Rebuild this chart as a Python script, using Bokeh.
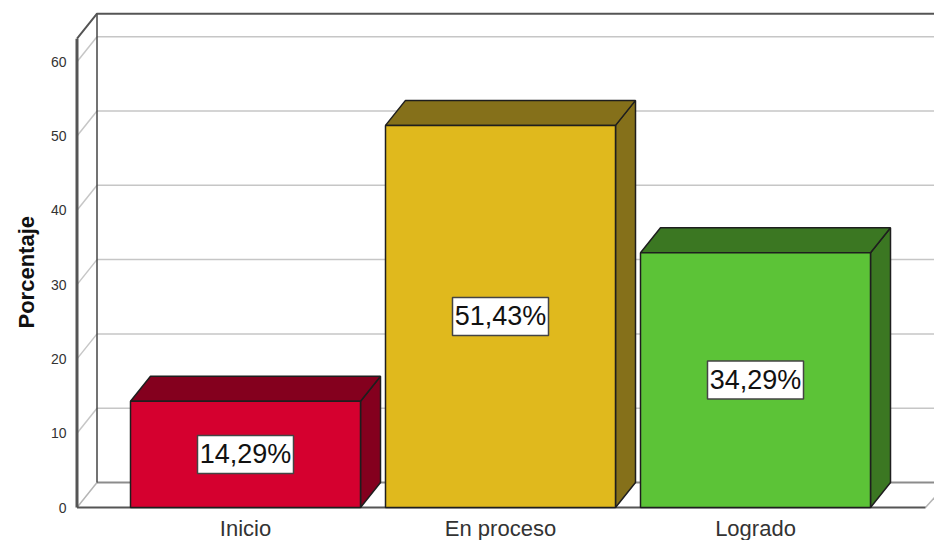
from bokeh.plotting import figure
from bokeh.embed import file_html
from bokeh.resources import INLINE
from bokeh.models import Range1d, FixedTicker, Title

categories = ["Inicio", "En proceso", "Logrado"]
percentages = [14.29, 51.43, 34.29]
labels = ["14,29%", "51,43%", "34,29%"]
front_colors = ["#D5002F", "#E0B91D", "#5CC337"]
dark_colors = ["#84001E", "#85701A", "#3B7722"]
y_ticks = [0, 10, 20, 30, 40, 50, 60]
y_title = "Porcentaje"

FONT = "Liberation Sans"
PX_X = 255.0
PX_Y = 7.43
X_START = 1 - 175 / PX_X
X_END = 1 + 689 / PX_X
X0 = 1 - 168.5 / PX_X
DX = 20 / PX_X
DY = 25 / PX_Y
YTOP = 63.1
BAR = 230 / PX_X
FLOOR_END = 1 + 680 / PX_X

p = figure(frame_width=864, frame_height=500, output_backend="svg", toolbar_location=None,
           x_range=Range1d(X_START, X_END), y_range=Range1d(-3 / PX_Y, 497 / PX_Y),
           min_border_left=70, min_border_right=0, min_border_top=10, min_border_bottom=30,
           outline_line_color=None, background_fill_color="white", border_fill_color="white")
p.margin = (0, 0, 0, 0)
p.grid.visible = False

xa = p.xaxis[0]
xa.ticker = FixedTicker(ticks=[1, 2, 3])
xa.major_label_overrides = {i + 1: c for i, c in enumerate(categories)}
xa.major_label_text_font = FONT
xa.major_label_text_font_size = "22px"
xa.major_label_text_color = "#333333"
xa.major_tick_line_color = None
xa.minor_tick_line_color = None
xa.axis_line_color = None
xa.major_label_standoff = -1

ya = p.yaxis[0]
ya.ticker = FixedTicker(ticks=y_ticks)
ya.major_label_text_font = FONT
ya.major_label_text_font_size = "14px"
ya.major_label_text_color = "#333333"
ya.major_tick_line_color = None
ya.minor_tick_line_color = None
ya.axis_line_color = None
ya.major_label_standoff = -2

p.add_layout(Title(text=y_title, align="left", offset=182, standoff=18,
                   text_font=FONT, text_font_style="bold", text_font_size="22px",
                   text_color="#111111"), "left")

grid_vals = [t for t in y_ticks if t > 0]
p.multi_line([[X0 + DX, X_END] for _ in grid_vals], [[v + DY, v + DY] for v in grid_vals],
             line_color="#C6C6C6", line_width=1.5)
p.multi_line([[X0, X0 + DX] for _ in grid_vals], [[v, v + DY] for v in grid_vals],
             line_color="#C6C6C6", line_width=1.5)
p.line([X0, X0 + DX], [0, DY], line_color="#B5B5B5", line_width=1.5)
p.line([X0 + DX, X_END], [DY, DY], line_color="#8C8C8C", line_width=2)
p.line([FLOOR_END, X_END], [0, DY * 0.4], line_color="#B5B5B5", line_width=1.5)
p.line([X0 + DX, X0 + DX], [0 + DY, YTOP + DY], line_color="#444444", line_width=1.5)
p.line([X0, X0 + DX, X_END], [YTOP, YTOP + DY, YTOP + DY], line_color="#555555", line_width=2)
p.line([X0, X0], [0, YTOP], line_color="#555555", line_width=3)
p.line([X0, FLOOR_END], [0, 0], line_color="#555555", line_width=2)

for i, v in enumerate(percentages):
    c = i + 1
    l, r = c - BAR / 2, c + BAR / 2
    p.patch([r, r + DX, r + DX, r], [0, DY, v + DY, v],
            fill_color=dark_colors[i], line_color="#1E1E1E", line_width=1.5)
    p.patch([l, l + DX, r + DX, r], [v, v + DY, v + DY, v],
            fill_color=dark_colors[i], line_color="#1E1E1E", line_width=1.5)
    p.quad(left=l, right=r, bottom=0, top=v,
           fill_color=front_colors[i], line_color="#1E1E1E", line_width=1.5)

xs = [i + 1 for i in range(len(percentages))]
ys = [v / 2 for v in percentages]
p.rect(xs, ys, width=96, height=38, width_units="screen", height_units="screen",
       fill_color="white", line_color="#444444", line_width=1.5)
p.text(xs, ys, text=labels, text_align="center", text_baseline="middle",
       text_font={"value": FONT}, text_font_size={"value": "27px"}, text_color="#111111")

open("out.html", "w").write(file_html(p, INLINE))
